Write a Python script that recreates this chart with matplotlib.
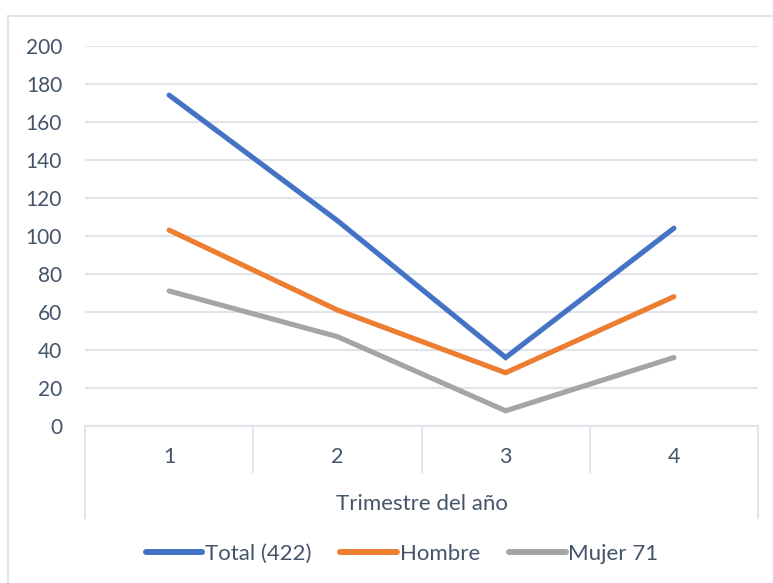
import matplotlib
matplotlib.use("Agg")
import matplotlib.pyplot as plt
from matplotlib.lines import Line2D
from matplotlib.patches import Rectangle

plt.rcParams['font.family'] = ['Lato', 'DejaVu Sans']

quarters = ["1", "2", "3", "4"]
total = [174, 108, 36, 104]
hombre = [103, 61, 28, 68]
mujer = [71, 47, 8, 36]
series_names = ["Total (422)", "Hombre", "Mujer 71"]
series_colors = ["#4472C4", "#ED7D31", "#A5A5A5"]
y_ticks = [0, 20, 40, 60, 80, 100, 120, 140, 160, 180, 200]
x_title = "Trimestre del año"

W, H = 773, 583
text_color = "#44546A"
grid_color = "#E1E5EB"

fig = plt.figure(figsize=(W / 100, H / 100), dpi=100)

# chart frame (extends past right and bottom edges)
fig.patches.append(Rectangle((8 / W, -0.1), 1.2, 1 - 16 / H + 0.1,
                             transform=fig.transFigure, fill=False,
                             edgecolor=grid_color, linewidth=1.5))

left, right = 85, 758
top, bottom = 45.7, 426
ax = fig.add_axes([left / W, 1 - bottom / H, (right - left) / W, (bottom - top) / H])
ax.set_xlim(0.5, 4.5)
ax.set_ylim(0, 200)
for s in ax.spines.values():
    s.set_visible(False)
ax.set_yticks(y_ticks)
ax.set_yticklabels([str(v) for v in y_ticks])
ax.tick_params(axis='y', length=0, pad=16.5, labelsize=15, labelcolor=text_color)
ax.set_xticks([])
ax.yaxis.grid(True, color=grid_color, linewidth=1.5)
ax.set_axisbelow(True)
ax.patch.set_alpha(0)

xs = [1, 2, 3, 4]
handles = []
for vals, name, col in zip([total, hombre, mujer], series_names, series_colors):
    ax.plot(xs, vals, color=col, linewidth=3.7, solid_capstyle='round',
            solid_joinstyle='miter', label=name, clip_on=False)
    handles.append(Line2D([], [], color=col, linewidth=4.3,
                          solid_capstyle='round', label=name))

# category axis with separators
def fx(px):
    return px / W

def fy(py):
    return 1 - py / H

fig.add_artist(Line2D([fx(left), fx(right)], [fy(bottom), fy(bottom)],
                      color=grid_color, linewidth=1.5))
cat_w = (right - left) / 4
for i in range(5):
    xp = left + i * cat_w
    yend = 518 if i in (0, 4) else 472
    fig.add_artist(Line2D([fx(xp), fx(xp)], [fy(bottom), fy(yend)],
                          color=grid_color, linewidth=1.5))
for i, q in enumerate(quarters):
    xp = left + (i + 0.5) * cat_w
    fig.text(fx(xp), fy(457), q, ha='center', va='center',
             fontsize=15.5, color=text_color)
fig.text(fx((left + right) / 2), fy(504), x_title, ha='center', va='center',
         fontsize=16, color=text_color)

leg = fig.legend(handles=handles, loc='center', bbox_to_anchor=(fx(402), fy(554)),
                 ncol=3, frameon=False, fontsize=16, handlelength=2.55,
                 handletextpad=0.12, columnspacing=1.3, labelcolor=text_color)

fig.savefig("out.png", dpi=100, facecolor='white')
